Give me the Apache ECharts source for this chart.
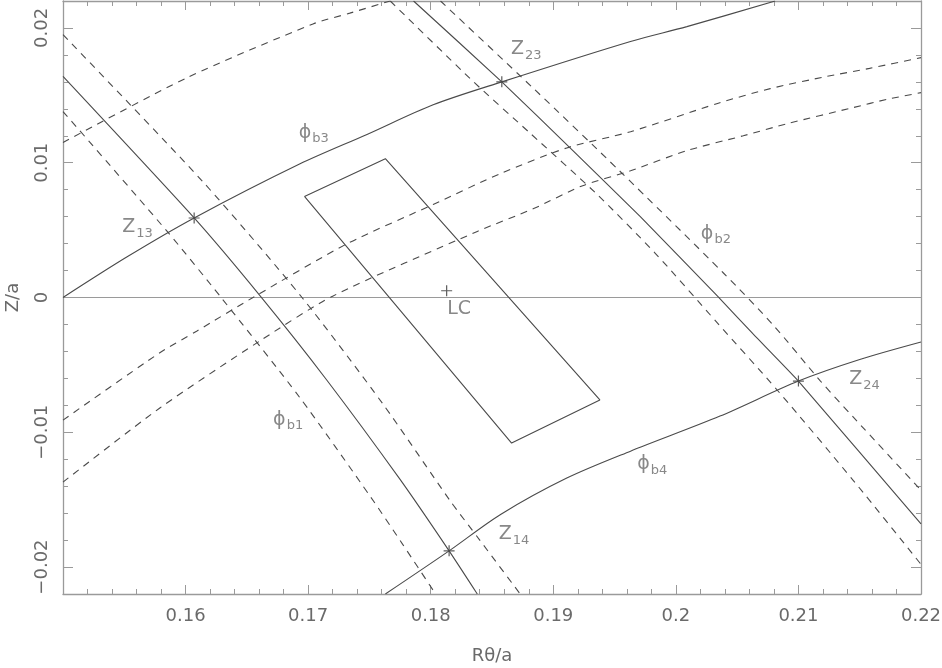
<!DOCTYPE html>
<html>
<head>
<meta charset="utf-8">
<script src="https://cdn.jsdelivr.net/npm/echarts@6/dist/echarts.min.js"></script>
<style>
  html, body { margin: 0; padding: 0; background: #fff; }
  #chart { width: 942px; height: 668px; }
</style>
</head>
<body>
<div id="chart"></div>
<script>
  // axis ticks
  const xMajorTicks = [0.15, 0.16, 0.17, 0.18, 0.19, 0.2, 0.21, 0.22]
  const xTickLabels = [0.16, 0.17, 0.18, 0.19, 0.2, 0.21, 0.22]
  const yMajorTicks = [-0.02, -0.01, 0, 0.01, 0.02]

  // curves: [Rθ/a, Z/a]
  const zeroLine = [[0.15, 0], [0.22, 0]]
  const phiB3 = [[0.15, 0], [0.1552, 0.0030], [0.1607, 0.0059], [0.1693, 0.0099], [0.1748, 0.0121],
    [0.1802, 0.0143], [0.1858, 0.0160], [0.1963, 0.0190], [0.2009, 0.0201], [0.2081, 0.0220]]
  const phiB4 = [[0.1763, -0.0220], [0.1815, -0.0188], [0.1857, -0.0161], [0.1911, -0.0134], [0.1963, -0.0114],
    [0.2036, -0.0088], [0.2100, -0.0062], [0.2150, -0.0046], [0.2200, -0.0033]]
  const phiB3Dash = [[0.15, 0.0115], [0.1601, 0.0163], [0.1704, 0.0203], [0.1734, 0.0211], [0.1767, 0.0220]]
  const midUpperDash = [[0.15, -0.0091], [0.1579, -0.0041], [0.1609, -0.0025], [0.1655, 0.0000], [0.1732, 0.0040],
    [0.1802, 0.0069], [0.1857, 0.0092], [0.1911, 0.0111], [0.1963, 0.0123], [0.2034, 0.0144],
    [0.2077, 0.0155], [0.2123, 0.0164], [0.2158, 0.0170], [0.2200, 0.0178]]
  const midLowerDash = [[0.15, -0.0137], [0.1579, -0.0082], [0.1661, -0.0032], [0.1720, 0.0001], [0.1838, 0.0049],
    [0.1884, 0.0066], [0.1924, 0.0083], [0.1963, 0.0094], [0.2009, 0.0109], [0.2055, 0.0120],
    [0.2091, 0.0129], [0.2145, 0.0141], [0.2172, 0.0147], [0.2200, 0.0152]]
  const lineA = [[0.15, 0.0164], [0.1607, 0.0059], [0.1661, 0.0001], [0.1715, -0.0061], [0.1775, -0.0135],
    [0.1815, -0.0188], [0.1838, -0.0220]]
  const lineALeft = [[0.15, 0.0138], [0.1585, 0.0049], [0.1629, 0.0], [0.1693, -0.0074], [0.1751, -0.0148],
    [0.1777, -0.0183], [0.1804, -0.0220]]
  const lineARight = [[0.15, 0.0195], [0.1614, 0.0086], [0.1695, 0.0], [0.1761, -0.0079], [0.1816, -0.0151],
    [0.1840, -0.0180], [0.1873, -0.0220]]
  const lineB = [[0.1786, 0.0220], [0.1858, 0.0160], [0.1916, 0.0109], [0.1971, 0.0060], [0.2034, 0.0001],
    [0.2063, -0.0027], [0.2100, -0.0062], [0.2200, -0.0168]]
  const lineBLeft = [[0.1767, 0.0220], [0.1835, 0.0160], [0.1881, 0.0122], [0.1934, 0.0078], [0.1983, 0.0033],
    [0.2034, -0.0019], [0.2083, -0.0069], [0.2145, -0.0136], [0.2200, -0.0198]]
  const lineBRight = [[0.1808, 0.0220], [0.1884, 0.0155], [0.1954, 0.0094], [0.2039, 0.0018], [0.2079, -0.0020],
    [0.2118, -0.0062], [0.2145, -0.0089], [0.2200, -0.0143]]
  const region = [[0.1697, 0.0075], [0.1763, 0.0103], [0.1938, -0.0076], [0.1866, -0.0108], [0.1697, 0.0075]]
  const crossPoints = [[0.1607, 0.0059], [0.1858, 0.0160], [0.2100, -0.0062], [0.1815, -0.0188], [0.1813, 0.0005]]

  // annotations
  const labelMain = ['ϕ', 'Z', 'Z', 'ϕ', 'Z', 'ϕ', 'Z', 'ϕ', 'LC']
  const labelSub = ['b3', '13', '23', 'b2', '24', 'b4', '14', 'b1', '']
  const labelAt = [[0.1692, 0.0121], [0.1548, 0.0051], [0.1865, 0.0183], [0.2020, 0.0046], [0.2141, -0.0062],
    [0.1968, -0.0125], [0.1855, -0.0177], [0.1671, -0.0092], [0.1813, -0.0010]]

  const font = 'DejaVu Sans'
  const txt = '#6a6a6a'
  const ink = '#4a4a4a'
  const frame = '#9a9a9a'

  const solid = (data, extra) => Object.assign({
    type: 'line', data: data, showSymbol: false, symbol: 'none', silent: true,
    lineStyle: { color: ink, width: 1.1 }
  }, extra || {})
  const dashed = (data) => solid(data, { smooth: 0.25, lineStyle: { color: ink, width: 1.1, type: [7, 6] } })

  const fmt = v => v === 0 ? '0' : (v < 0 ? '\u2212' : '') + Math.abs(v)

  function xAxes() {
    const base = { type: 'value', min: 0.15, max: 0.22, splitLine: { show: false } }
    return [
      Object.assign({}, base, {
        position: 'bottom',
        axisLine: { show: true, onZero: false, lineStyle: { color: frame, width: 1.3 } },
        axisTick: { inside: true, length: 9, customValues: xMajorTicks, lineStyle: { color: frame } },
        axisLabel: { customValues: xTickLabels, formatter: fmt, color: txt, fontSize: 18, fontFamily: font, margin: 13 },
        name: 'Rθ/a', nameLocation: 'middle', nameGap: 53,
        nameTextStyle: { color: txt, fontSize: 18, fontFamily: font }
      }),
      Object.assign({}, base, {
        position: 'bottom', interval: 0.002,
        axisLine: { show: false, onZero: false },
        axisTick: { inside: true, length: 5, lineStyle: { color: frame } },
        axisLabel: { show: false }
      }),
      Object.assign({}, base, {
        position: 'top',
        axisLine: { show: true, onZero: false, lineStyle: { color: frame, width: 1.3 } },
        axisTick: { inside: true, length: 9, customValues: xMajorTicks, lineStyle: { color: frame } },
        axisLabel: { show: false }
      }),
      Object.assign({}, base, {
        position: 'top', interval: 0.002,
        axisLine: { show: false, onZero: false },
        axisTick: { inside: true, length: 5, lineStyle: { color: frame } },
        axisLabel: { show: false }
      })
    ]
  }

  function yAxes() {
    const base = { type: 'value', min: -0.022, max: 0.022, splitLine: { show: false } }
    return [
      Object.assign({}, base, {
        position: 'left',
        axisLine: { show: true, onZero: false, lineStyle: { color: frame, width: 1.3 } },
        axisTick: { inside: true, length: 10, customValues: yMajorTicks, lineStyle: { color: frame } },
        axisLabel: { customValues: yMajorTicks, formatter: fmt, rotate: 90, color: txt, fontSize: 18, fontFamily: font, margin: 12 },
        name: 'Z/a', nameLocation: 'middle', nameGap: 41,
        nameTextStyle: { color: txt, fontSize: 18, fontFamily: font }
      }),
      Object.assign({}, base, {
        position: 'left', interval: 0.002,
        axisLine: { show: false, onZero: false },
        axisTick: { inside: true, length: 5, lineStyle: { color: frame } },
        axisLabel: { show: false }
      }),
      Object.assign({}, base, {
        position: 'right',
        axisLine: { show: true, onZero: false, lineStyle: { color: frame, width: 1.3 } },
        axisTick: { inside: true, length: 10, customValues: yMajorTicks, lineStyle: { color: frame } },
        axisLabel: { show: false }
      }),
      Object.assign({}, base, {
        position: 'right', interval: 0.002,
        axisLine: { show: false, onZero: false },
        axisTick: { inside: true, length: 5, lineStyle: { color: frame } },
        axisLabel: { show: false }
      })
    ]
  }

  const chart = echarts.init(document.getElementById('chart'), null, { renderer: 'canvas' })
  chart.setOption({
    animation: false,
    backgroundColor: '#fff',
    grid: { left: 63, right: 21, top: 1, bottom: 74, outerBoundsMode: 'none' },
    xAxis: xAxes(),
    yAxis: yAxes(),
    series: [
      solid(zeroLine, { lineStyle: { color: frame, width: 1 } }),
      solid(phiB3, { smooth: 0.3 }),
      solid(phiB4, { smooth: 0.3 }),
      solid(lineA, { smooth: 0.2 }),
      solid(lineB, { smooth: 0.15 }),
      solid(region),
      dashed(phiB3Dash),
      dashed(midUpperDash),
      dashed(midLowerDash),
      dashed(lineALeft),
      dashed(lineARight),
      dashed(lineBLeft),
      dashed(lineBRight),
      {
        type: 'scatter', data: crossPoints, silent: true,
        symbol: 'path://M0,5L10,5M5,0L5,10', symbolSize: 11,
        itemStyle: { color: 'none', borderColor: '#333', borderWidth: 1.2 }
      },
      {
        type: 'scatter', silent: true, symbolSize: 1,
        itemStyle: { color: 'rgba(0,0,0,0)' },
        data: labelAt,
        label: {
          show: true, position: 'right', distance: 0,
          formatter: p => labelSub[p.dataIndex]
            ? '{m|' + labelMain[p.dataIndex] + '}{s|' + labelSub[p.dataIndex] + '}'
            : '{m|' + labelMain[p.dataIndex] + '}',
          rich: {
            m: { fontSize: 19, fontFamily: font, color: txt, lineHeight: 22, verticalAlign: 'top' },
            s: { fontSize: 13, fontFamily: font, color: txt, lineHeight: 15, padding: [10, 0, 0, 1], verticalAlign: 'bottom' }
          }
        }
      }
    ]
  })
</script>
</body>
</html>
